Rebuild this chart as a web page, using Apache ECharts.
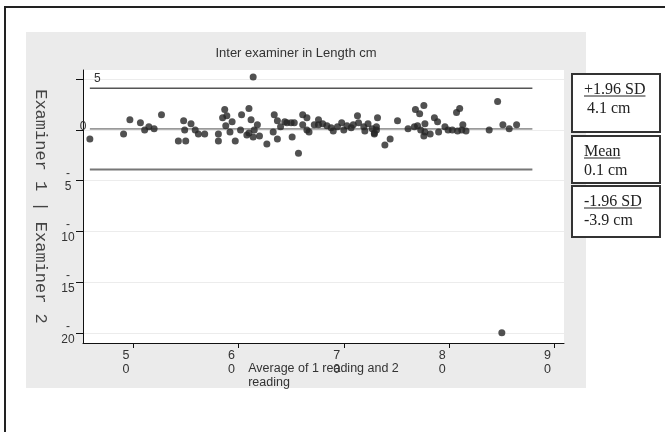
<!DOCTYPE html>
<html>
 <head>
  <meta charset="utf-8" />
  <script src="https://cdn.jsdelivr.net/npm/echarts@6/dist/echarts.min.js"></script>
 </head>
 <body style="margin:0;background:#fff">
  <div id="main" style="width:665px;height:432px;"></div>
  <script type="text/javascript">
   // average of the two readings (x) and difference examiner 1 - examiner 2 (y)
   var avgVals = [
     45.9, 49.1, 49.7, 50.7, 51.1, 51.5, 52.0, 52.7,
     54.8, 54.9, 54.3, 55.0, 55.5, 55.9, 56.2, 56.8, 58.1, 58.1, 58.7, 58.5,
     58.9, 59.4, 58.8, 59.2, 59.7, 60.2, 60.3, 61.0, 61.2, 60.8, 61.0, 61.5,
     61.4, 62.0, 61.8, 62.7, 63.4, 63.7, 63.3, 63.7, 61.4,
     64.0, 64.4, 64.6, 65.0, 65.3, 65.1, 65.7, 66.1, 66.5, 66.1, 66.5, 66.7,
     67.2, 67.6, 67.6, 68.0, 68.4, 68.8, 69.0, 69.4, 69.8, 70.0, 70.3, 70.7,
     70.9, 71.3, 71.4, 71.9, 72.0, 72.3, 72.7, 72.9,
     73.2, 73.1, 73.1, 72.9, 73.9, 74.4, 75.1, 76.1, 76.7, 77.0, 76.8, 77.2,
     77.6, 77.7, 77.3, 77.7, 77.6, 78.2, 78.6, 78.9, 79.0, 79.6, 79.9, 80.3,
     80.8, 81.2, 81.6, 81.3, 80.7, 81.0,
     83.8, 84.6, 85.1, 85.7, 86.4, 85.0
   ];
   var diffVals = [
     -0.9, -0.4, 1.0, 0.7, 0.0, 0.3, 0.1, 1.5,
     0.9, 0.0, -1.1, -1.1, 0.6, 0.0, -0.4, -0.4, -0.4, -1.1, 2.0, 1.2,
     1.4, 0.8, 0.4, -0.2, -1.1, 0.0, 1.5, 2.1, 1.0, -0.5, -0.3, 0.0,
     -0.7, -0.6, 0.5, -1.4, 1.5, 0.9, -0.2, -0.9, 5.2,
     0.3, 0.8, 0.7, 0.7, 0.7, -0.7, -2.3, 1.5, 1.2, 0.5, 0.0, -0.2,
     0.5, 1.0, 0.5, 0.6, 0.4, 0.2, -0.1, 0.3, 0.7, 0.0, 0.4, 0.2,
     0.5, 1.4, 0.7, 0.3, -0.1, 0.6, 0.1, -0.4,
     1.2, 0.3, 0.0, -0.3, -1.5, -0.9, 0.9, 0.1, 0.3, 0.4, 2.0, 1.6,
     2.4, 0.6, 0.0, -0.2, -0.6, -0.4, 1.2, 0.8, -0.2, 0.3, 0.0, 0.0,
     -0.1, 0.0, -0.1, 0.5, 1.7, 2.1,
     0.0, 2.8, 0.5, 0.1, 0.5, -20.0
   ];
   var xTicks = [50, 60, 70, 80, 90];
   var yTicks = [5, 0, -5, -10, -15, -20];
   var limitNames = ['+1.96 SD', 'Mean', '-1.96 SD'];
   var limitVals = [4.1, 0.1, -3.9];
   var lineFrom = 45.9, lineTo = 87.9;

   var myChart = echarts.init(document.getElementById('main'));
   var sans = 'Liberation Sans';
   var serif = 'Liberation Serif';

   var points = avgVals.map(function (x, i) { return [x, diffVals[i]]; });

   // reference lines: +SD, mean, -SD
   var lineColors = ['#555', '#9a9a9a', '#777'];
   var lineWidths = [1.5, 1.8, 2];
   var limitSeries = limitVals.map(function (v, i) {
     return {
       type: 'line',
       symbol: 'none',
       silent: true,
       z: 2,
       lineStyle: { color: lineColors[i], width: lineWidths[i] },
       data: [[lineFrom, v], [lineTo, v]]
     };
   });

   // text boxes on the right
   var ctx = document.createElement('canvas').getContext('2d');
   ctx.font = '16px "' + serif + '"';
   var boxTops = [74, 136, 186];
   var boxHeights = [58, 47, 51];
   var graphics = [
     { type: 'rect', z: -10, shape: { x: 26, y: 32, width: 560, height: 356 }, style: { fill: '#ebebeb' } },
     { type: 'rect', shape: { x: 5, y: 7, width: 700, height: 500 }, style: { fill: 'none', stroke: '#222', lineWidth: 2 } },
     { type: 'text', x: 296, y: 53, style: { text: 'Inter examiner in Length cm', align: 'center', verticalAlign: 'middle',
       textAlign: 'center', textVerticalAlign: 'middle', font: '13px "' + sans + '"', fill: '#333' } }
   ];
   limitNames.forEach(function (name, i) {
     var top = boxTops[i];
     var w = ctx.measureText(name).width;
     graphics.push(
       { type: 'rect', shape: { x: 572, y: top, width: 88, height: boxHeights[i] }, style: { fill: '#fff', stroke: '#333', lineWidth: 2 } },
       { type: 'text', x: 584, y: top + 16, style: { text: name, verticalAlign: 'middle', textVerticalAlign: 'middle', font: '16px "' + serif + '"', fill: '#222' } },
       { type: 'line', shape: { x1: 584, y1: top + 22, x2: 584 + w, y2: top + 22 }, style: { stroke: '#222', lineWidth: 1 } },
       { type: 'text', x: 584 + (i === 0 ? 3 : 0), y: top + 35, style: { text: limitVals[i].toFixed(1) + ' cm', verticalAlign: 'middle', textVerticalAlign: 'middle', font: '16px "' + serif + '"', fill: '#222' } }
     );
   });

   var option = {
     backgroundColor: '#fff',
     animation: false,
     grid: { left: 83, top: 70, width: 481, height: 273, show: true, backgroundColor: '#fff', borderWidth: 0 },
     xAxis: {
       type: 'value',
       min: 45.25,
       max: 90.9,
       axisLine: { onZero: false, lineStyle: { color: '#111', width: 1 } },
       axisTick: { customValues: xTicks, length: 5, lineStyle: { color: '#111' } },
       axisLabel: {
         customValues: xTicks,
         formatter: function (v) { return String(v).split('').join('\n'); },
         color: '#333', fontSize: 12.5, fontFamily: sans, lineHeight: 14, margin: 6, padding: [0, 14, 0, 0]
       },
       splitLine: { show: false },
       name: '{a|Average of 1 reading and 2}\n{a|reading}',
       nameLocation: 'middle',
       nameGap: 19,
       nameMoveOverlap: false,
       nameTextStyle: { rich: { a: { align: 'left', fontSize: 12.5, fontFamily: sans, color: '#333', lineHeight: 14 } } }
     },
     yAxis: [{
       type: 'value',
       min: -21,
       max: 5.9,
       axisLine: { show: true, onZero: false, lineStyle: { color: '#111' } },
       axisTick: { show: true, customValues: yTicks, length: 7, lineStyle: { color: '#111' } },
       axisLabel: {
         customValues: yTicks,
         formatter: function (v) {
           if (v > 0) return '';
           if (v === 0) return '{z|0}';
           return '-\n' + Math.abs(v);
         },
         align: 'center', margin: 15, color: '#333', fontSize: 12, fontFamily: sans, lineHeight: 13,
         rich: { z: { padding: [0, 0, 6, 30], fontSize: 12, fontFamily: sans, color: '#333' } }
       },
       splitLine: { show: true, lineStyle: { color: '#ececec', width: 1 } },
       name: 'Examiner 1 | Examiner 2',
       nameLocation: 'middle',
       nameRotate: -90,
       nameGap: 34,
       nameMoveOverlap: false,
       nameTextStyle: { fontFamily: 'Liberation Mono', fontSize: 17, color: '#444' }
     }, {
       type: 'value',
       min: -21,
       max: 5.9,
       position: 'left',
       axisLine: { show: false },
       axisTick: { show: false },
       splitLine: { show: false },
       axisLabel: { inside: true, customValues: [5], margin: 11, color: '#333', fontSize: 12, fontFamily: sans, padding: [0, 0, 8, 0] }
     }],
     series: limitSeries.concat([{
       type: 'scatter',
       z: 5,
       symbol: 'circle',
       symbolSize: 7,
       itemStyle: { color: '#262626' },
       data: points
     }]),
     graphic: graphics
   };
   myChart.setOption(option);
  </script>
 </body>
</html>
